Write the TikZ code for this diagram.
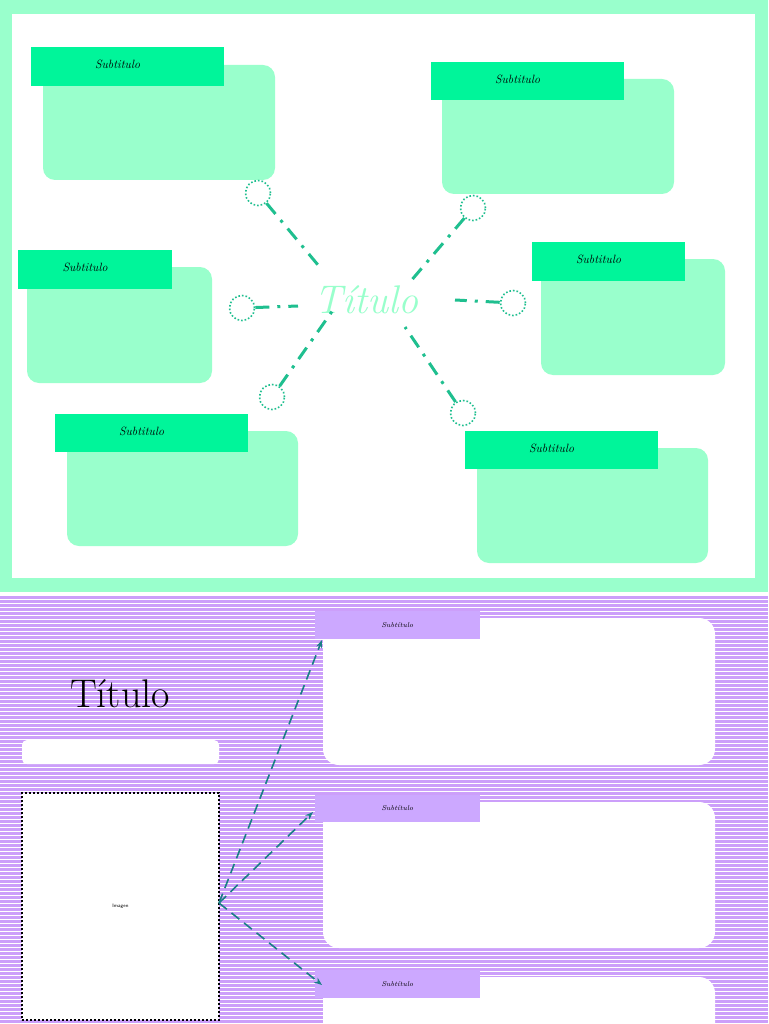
\documentclass[tikz,border=0pt]{standalone}
\usetikzlibrary{arrows.meta}
\definecolor{mint}{HTML}{99FFCC}
\definecolor{mintd}{HTML}{00F59A}
\definecolor{teal1}{HTML}{1FBF8F}
\definecolor{purp}{HTML}{CC9FFA}
\definecolor{purpl}{HTML}{CCA8FF}
\definecolor{arr}{HTML}{1A7F86}
\tikzset{
 box/.style={fill=mint,rounded corners=12pt},
 lab/.style={fill=mintd},
 labt/.style={font=\itshape\large},
 ring/.style={draw=teal1,line width=1.6pt,dotted,circle,minimum size=25pt,inner sep=0pt},
 spoke/.style={draw=teal1,line width=3pt,dash pattern=on 14pt off 8pt on 3pt off 8pt},
 wbox/.style={fill=white,rounded corners=16pt},
 plab/.style={fill=purpl,font=\itshape\scriptsize},
 darr/.style={draw=arr,line width=1.6pt,dash pattern=on 10pt off 6pt,-{Stealth[length=8pt]}}
}
\begin{document}
\begin{tikzpicture}[x=1pt,y=-1pt]
\useasboundingbox (0,0) rectangle (768,1024);
\fill[mint] (0,0) rectangle (768,592);
\fill[white] (12,14) rectangle (755,578);
\fill[white] (0,592) rectangle (768,596);
\fill[purp] (0,596) rectangle (768,1024);
\foreach \y in {599,603,...,1023} \draw[white,line width=0.9pt] (0,\y) -- (768,\y);
% top boxes
\foreach \a/\b/\c/\d/\e/\f/\g/\h/\n in {43/65/275/180/31/47/224/86/1,442/79/674/194/431/62/624/100/2,27/267/212/383/18/250/172/289/3,541/259/725/375/532/242/685/281/4,67/431/298/546/55/414/248/452/5,477/448/708/563/465/431/658/469/6}{
 \fill[box] (\a,\b) rectangle (\c,\d);
 \node[lab,minimum width={\g-\e},minimum height={\h-\f},inner sep=0pt] (l\n) at ({(\e+\g)/2},{(\f+\h)/2}) {};
 \node[labt] at ({(\e+\g)/2-10},{(\f+\h)/2-2}) {Subtitulo};
}
\node[text=mint,font=\itshape\fontsize{40}{40}\selectfont] (T) at (366,300) {Título};
\node[ring] (c1) at (258,193) {};
\node[ring] (c2) at (473,208) {};
\node[ring] (c3) at (242,308) {};
\node[ring] (c4) at (513,303) {};
\node[ring] (c5) at (272,397) {};
\node[ring] (c6) at (463,413) {};
\coordinate (e1) at (318,265);
\coordinate (e2) at (410,282);
\coordinate (e3) at (298,306);
\coordinate (e4) at (455,300);
\coordinate (e5) at (333,310);
\coordinate (e6) at (405,327);
\foreach \i in {1,...,6} \draw[spoke] (c\i) -- (e\i);
% bottom
\node[font=\fontsize{40}{40}\selectfont] (T2) at (120,694) {Título};
\fill[white,rounded corners=5pt] (22,740) rectangle (219,764);
\node[draw=black,dotted,line width=2pt,fill=white,minimum width=197pt,minimum height=227pt,inner sep=0pt,font=\tiny\sffamily] (img) at (120.5,906.5) {Imagen};
\fill[wbox] (323,618) rectangle (715,765);
\fill[wbox] (323,802) rectangle (715,948);
\fill[wbox] (323,977) rectangle (715,1060);
\node[plab,minimum width=165pt,minimum height=28pt,inner sep=0pt] (p1) at (397.5,625) {Subtítulo};
\node[plab,minimum width=165pt,minimum height=27pt,inner sep=0pt] (p2) at (397.5,808.5) {Subtítulo};
\node[plab,minimum width=165pt,minimum height=28pt,inner sep=0pt] (p3) at (397.5,984) {Subtítulo};
\coordinate (o) at (219,903);
\draw[darr] (o) -- (322,640);
\draw[darr] (o) -- (313,812);
\draw[darr] (o) -- (322,985);
\end{tikzpicture}
\end{document}
